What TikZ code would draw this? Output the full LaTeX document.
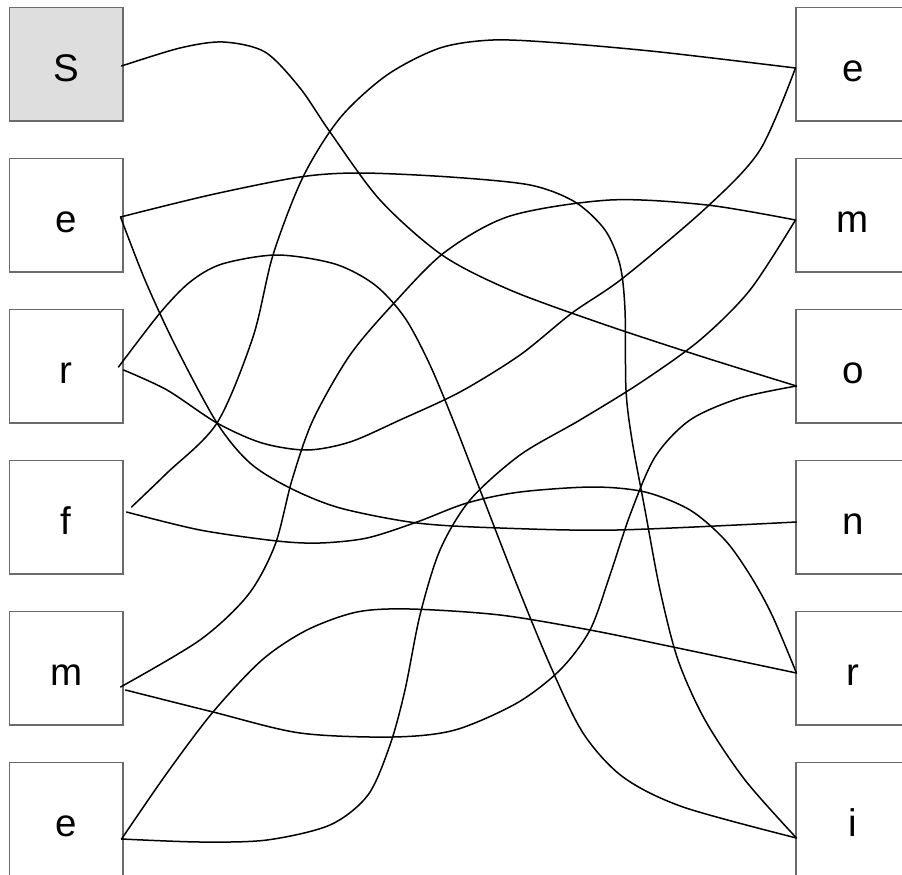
\documentclass[tikz,border=0pt]{standalone}
\usepackage{fontspec}
\setmainfont{Liberation Sans}
\begin{document}
\begin{tikzpicture}[x=1pt,y=-1pt,
  letterbox/.style={draw=black!58,line width=1.1pt,fill=white,minimum width=113.5pt,minimum height=113.5pt,inner sep=0pt,
    font=\fontsize{38.5}{40}\selectfont,text height=34pt,text depth=0pt},
  startbox/.style={letterbox,fill=black!13},
  wire/.style={line width=1.5pt,black,line cap=round,line join=round}]
\useasboundingbox (0,0) rectangle (902,875);
\clip (0,0) rectangle (902,875);
% left column
\node[startbox]  (L1) at (66.25,64.25)  {S};
\node[letterbox] (L2) at (66.25,215.25) {e};
\node[letterbox] (L3) at (66.25,366.25) {r};
\node[letterbox] (L4) at (66.25,517.25) {f};
\node[letterbox] (L5) at (66.25,668.25) {m};
\node[letterbox] (L6) at (66.25,819.25) {e};
% right column
\node[letterbox] (R1) at (852.75,64.25)  {e};
\node[letterbox] (R2) at (852.75,215.25) {m};
\node[letterbox] (R3) at (852.75,366.25) {o};
\node[letterbox] (R4) at (852.75,517.25) {n};
\node[letterbox] (R5) at (852.75,668.25) {r};
\node[letterbox] (R6) at (852.75,819.25) {i};
% end points
\coordinate (a1) at ([shift={(-2,1.75)}]L1.east);
\coordinate (a2) at ([shift={(-3,1.75)}]L2.east);
\coordinate (a3c) at ([shift={(0,3.75)}]L3.east);
\coordinate (a3g) at ([shift={(-5,0.75)}]L3.east);
\coordinate (a4b) at ([shift={(8,-10.25)}]L4.east);
\coordinate (a4h) at ([shift={(3,-5.25)}]L4.east);
\coordinate (a5i) at ([shift={(-3,18.75)}]L5.east);
\coordinate (a5j) at ([shift={(2,21.75)}]L5.east);
\coordinate (a6) at ([shift={(-2,19.75)}]L6.east);
\coordinate (b1) at ([shift={(0,3.75)}]R1.west);
\coordinate (b2) at ([shift={(0,4.75)}]R2.west);
\coordinate (b3) at ([shift={(1,19.75)}]R3.west);
\coordinate (b4) at ([shift={(1,4.75)}]R4.west);
\coordinate (b5) at ([shift={(1,4.75)}]R5.west);
\coordinate (b6) at ([shift={(1,18.75)}]R6.west);
% A: S -> o
\draw[wire] plot[smooth] coordinates {(a1) (180,48) (223,42) (265,52) (300,88) (330,132) (380,200) (442,255) (510,290) (600,323) (700,356) (b3)};
% B: f -> e
\draw[wire] plot[smooth] coordinates {(a4b) (167,473) (217,423) (253,337) (273,255) (303,177) (340,118) (387,75) (440,48) (493,40) (560,43) (660,52) (b1)};
% C: r -> e
\draw[wire] plot[smooth] coordinates {(a3c) (167,390) (217,423) (262,443) (307,450) (350,442) (400,420) (460,392) (520,355) (572,313) (623,278) (707,207) (760,150) (b1)};
% D: e -> m
\draw[wire] plot[smooth] coordinates {(a6) (200,842) (267,840) (330,825) (368,795) (390,745) (405,690) (420,615) (440,550) (470,500) (520,455) (580,420) (640,383) (700,340) (750,290) (b2)};
% E: e -> i
\draw[wire] plot[smooth] coordinates {(a2) (210,195) (300,177) (360,173) (450,177) (530,185) (575,202) (605,230) (620,265) (625,310) (626,390) (632,440) (645,510) (660,590) (678,660) (705,720) (745,780) (b6)};
% F: e -> n
\draw[wire] plot[smooth] coordinates {(a2) (145,280) (175,345) (217,423) (250,463) (290,488) (340,508) (417,523) (500,528) (617,530) (b4)};
% G: r -> i
\draw[wire] plot[smooth] coordinates {(a3g) (160,313) (190,282) (222,264) (277,255) (335,264) (375,285) (405,318) (430,365) (455,425) (482,495) (515,580) (550,665) (583,733) (623,777) (683,807) (b6)};
% H: f -> r
\draw[wire] plot[smooth] coordinates {(a4h) (200,530) (277,541) (320,543) (367,538) (417,522) (467,503) (520,492) (593,487) (645,492) (690,510) (725,540) (750,575) (772,615) (b5)};
% I: m -> m
\draw[wire] plot[smooth] coordinates {(a5i) (200,640) (248,595) (275,545) (292,480) (313,420) (350,355) (395,302) (445,252) (510,216) (610,200) (707,205) (b2)};
% J: m -> o
\draw[wire] plot[smooth] coordinates {(a5j) (213,712) (300,733) (393,737) (455,730) (517,703) (560,670) (590,630) (610,575) (630,515) (655,457) (690,420) (740,398) (b3)};
% K: e -> r
\draw[wire] plot[smooth] coordinates {(a6) (167,773) (213,712) (262,660) (307,630) (357,612) (410,609) (500,615) (590,630) (673,647) (b5)};
\end{tikzpicture}
\end{document}
